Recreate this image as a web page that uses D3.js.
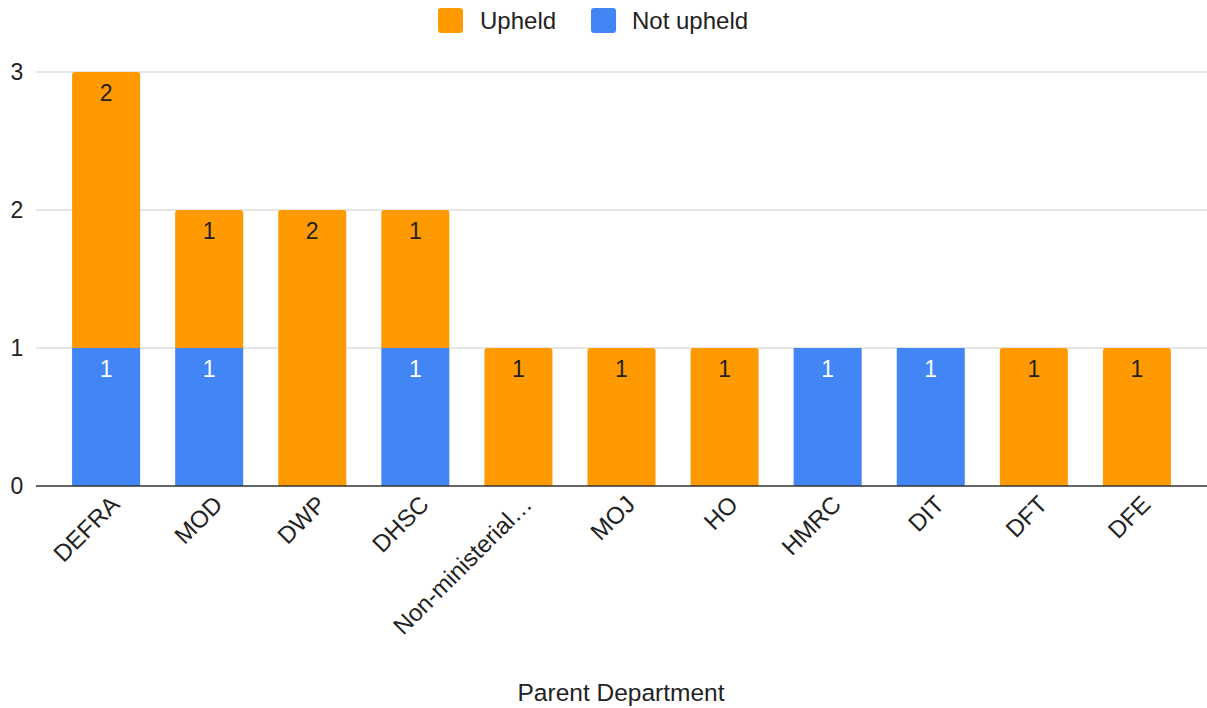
<html>
<head>
<style>
  body { margin: 0; background: #fff; }
  svg { font-family: "Liberation Sans", Arial, sans-serif; }
</style>
</head>
<body>
<div id="chart"></div>
<script src="https://d3js.org/d3.v7.min.js"></script>
<script>
  const categories = ['DEFRA', 'MOD', 'DWP', 'DHSC', 'Non-ministerial…', 'MOJ', 'HO', 'HMRC', 'DIT', 'DFT', 'DFE']
  const notUpheld = [1, 1, 0, 1, 0, 0, 0, 1, 1, 0, 0]
  const upheld = [2, 1, 2, 1, 1, 1, 1, 0, 0, 1, 1]
  const yTicks = [0, 1, 2, 3]

  const width = 1207, height = 708
  const svg = d3.select('#chart').append('svg').attr('width', width).attr('height', height)

  const x = d3.scaleBand().domain(categories).range([36, 1207]).paddingInner(0.34).paddingOuter(0.35)
  const y = d3.scaleLinear().domain([0, 3]).range([486, 72])

  // gridlines
  svg.append('g').selectAll('line').data(yTicks.filter(d => d > 0)).join('line')
    .attr('x1', 36).attr('x2', 1207)
    .attr('y1', d => y(d)).attr('y2', d => y(d))
    .attr('stroke', '#ccc').attr('stroke-width', 1.2)

  // y labels
  svg.append('g').selectAll('text').data(yTicks).join('text')
    .attr('x', 17).attr('y', d => y(d)).attr('dy', '0.35em')
    .attr('text-anchor', 'middle').attr('font-size', 23).attr('fill', '#222')
    .text(d => d)

  // stacked data
  const rows = categories.map((c, i) => ({ name: c, 'Not upheld': notUpheld[i], 'Upheld': upheld[i] }))
  const stack = d3.stack().keys(['Not upheld', 'Upheld'])(rows)
  const colors = { 'Upheld': '#ff9900', 'Not upheld': '#4285f4' }
  const labelColors = { 'Upheld': '#222', 'Not upheld': '#fff' }

  function barPath(x0, y0, w, h, r) {
    return `M${x0},${y0 + h}V${y0 + r}Q${x0},${y0} ${x0 + r},${y0}H${x0 + w - r}Q${x0 + w},${y0} ${x0 + w},${y0 + r}V${y0 + h}Z`
  }

  stack.forEach(layer => {
    const key = layer.key
    const g = svg.append('g')
    const segs = layer.map((d, i) => ({ key, name: categories[i], y0: d[0], y1: d[1], v: d[1] - d[0] })).filter(d => d.v > 0)
    g.selectAll('path').data(segs).join('path')
      .attr('d', d => {
        const r = key === 'Upheld' ? 3 : 0
        return barPath(x(d.name), y(d.y1), x.bandwidth(), y(d.y0) - y(d.y1), r)
      })
      .attr('fill', colors[key])
    g.selectAll('text').data(segs).join('text')
      .attr('x', d => x(d.name) + x.bandwidth() / 2)
      .attr('y', d => y(d.y1) + 21)
      .attr('dy', '0.35em')
      .attr('text-anchor', 'middle').attr('font-size', 23)
      .attr('fill', labelColors[key])
      .text(d => d.v)
  })

  // baseline
  svg.append('line').attr('x1', 36).attr('x2', 1207).attr('y1', y(0)).attr('y2', y(0))
    .attr('stroke', '#333').attr('stroke-width', 1.5)

  // x labels
  svg.append('g').selectAll('text').data(categories).join('text')
    .attr('transform', d => `translate(${x(d) + x.bandwidth() / 2 + 9},${500}) rotate(-45)`)
    .attr('text-anchor', 'end').attr('dy', '0.35em')
    .attr('font-size', 24).attr('fill', '#222')
    .text(d => d)

  // axis title
  svg.append('text').attr('x', 621).attr('y', 692).attr('dy', '0.35em')
    .attr('text-anchor', 'middle').attr('font-size', 24.5).attr('fill', '#222')
    .text('Parent Department')

  // legend
  const legend = [{ key: 'Upheld', x: 438, tx: 480 }, { key: 'Not upheld', x: 591, tx: 632 }]
  const lg = svg.append('g').selectAll('g').data(legend).join('g')
  lg.append('rect').attr('x', d => d.x).attr('y', 8).attr('width', 25).attr('height', 25)
    .attr('rx', 3).attr('fill', d => colors[d.key])
  lg.append('text').attr('x', d => d.tx).attr('y', 20.5).attr('dy', '0.35em')
    .attr('font-size', 24).attr('fill', '#222').text(d => d.key)
</script>
</body>
</html>
